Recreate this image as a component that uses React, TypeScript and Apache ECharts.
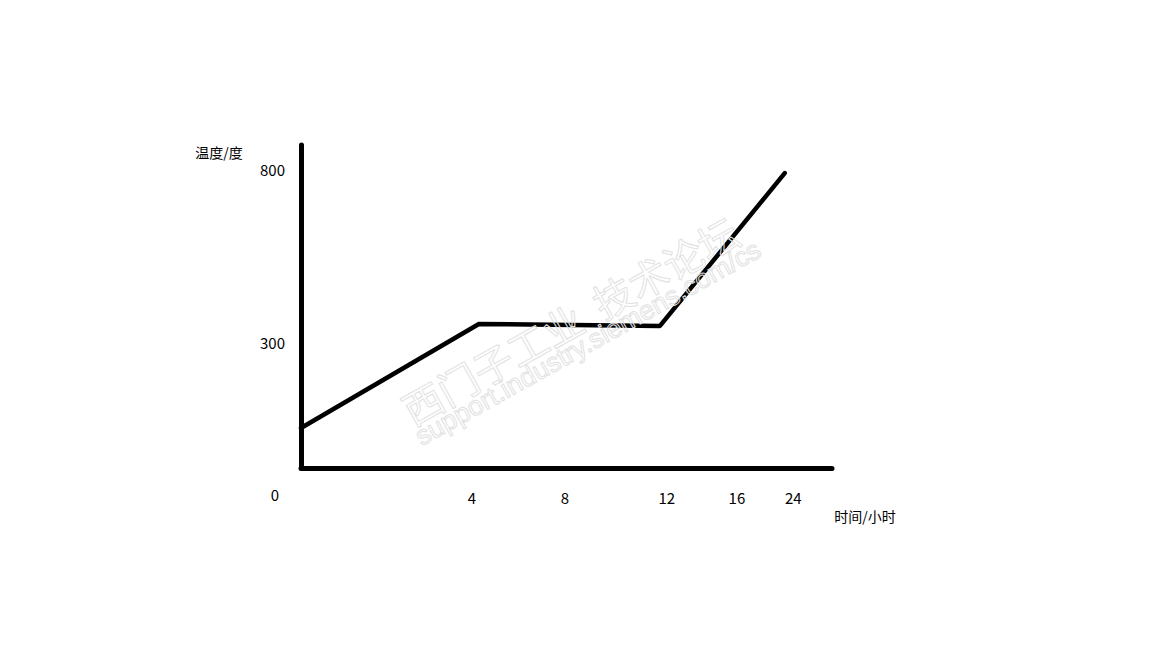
import React, { useEffect, useRef } from "react";
import * as echarts from "echarts";

// Hand-sketched chart: positions are in sketch units (0-100 along each axis)
const xLabels = ["4", "8", "12", "16", "24"];
const xLabelPos = [32.2, 49.7, 68.9, 82.1, 92.7];
const yLabels = ["300", "800"];
const yLabelPos = [39.0, 92.3];
const lineX = [0, 33.5, 67.6, 91.1];
const lineY = [12.4, 44.6, 44.0, 91.3];
const xName = "时间/小时";
const yName = "温度/度";
const originLabel = "0";
const watermark1 = "西门子工业  技术论坛";
const watermark2 = "support.industry.siemens.com/cs";

const FONT = "'Noto Sans CJK SC', 'Noto Sans', sans-serif";

export default function App() {
  const ref = useRef<HTMLDivElement>(null);
  useEffect(() => {
    if (!ref.current) return;
    const chart = echarts.init(ref.current, null, { renderer: "svg" });
    const xLabelMap: Record<string, string> = {};
    xLabelPos.forEach((p, i) => (xLabelMap[String(p)] = xLabels[i]));
    const yLabelMap: Record<string, string> = {};
    yLabelPos.forEach((p, i) => (yLabelMap[String(p)] = yLabels[i]));
    chart.setOption({
      animation: false,
      backgroundColor: "#ffffff",
      grid: { left: 301, top: 145, width: 531, height: 323, containLabel: false },
      xAxis: {
        type: "value",
        min: 0,
        max: 100,
        splitLine: { show: false },
        axisTick: { show: false },
        axisLine: { show: true, lineStyle: { color: "#000", width: 5, cap: "round" } },
        axisLabel: {
          customValues: xLabelPos,
          formatter: (v: number) => xLabelMap[String(v)] ?? "",
          margin: 22,
          color: "#000",
          fontSize: 15,
          fontFamily: FONT,
        },
      },
      yAxis: {
        type: "value",
        min: 0,
        max: 100,
        splitLine: { show: false },
        axisTick: { show: false },
        axisLine: { show: true, lineStyle: { color: "#000", width: 5, cap: "round" } },
        axisLabel: {
          customValues: yLabelPos,
          formatter: (v: number) => yLabelMap[String(v)] ?? "",
          margin: 16,
          color: "#000",
          fontSize: 15,
          fontFamily: FONT,
        },
      },
      series: [
        {
          type: "line",
          data: lineX.map((x, i) => [x, lineY[i]]),
          symbol: "none",
          lineStyle: { color: "#000", width: 4.5, join: "round", cap: "round" },
          z: 3,
        },
      ],
      graphic: [
        {
          type: "text",
          x: 570,
          y: 320,
          rotation: 0.51,
          z: 10,
          style: {
            text: watermark1,
            fill: "rgba(255,255,255,0)",
            stroke: "#e2e2e2",
            lineWidth: 1,
            font: "40px 'Noto Sans CJK SC'",
            align: "center",
            verticalAlign: "middle",
          },
        },
        {
          type: "text",
          x: 588,
          y: 343,
          rotation: 0.51,
          z: 10,
          style: {
            text: watermark2,
            fill: "rgba(255,255,255,0)",
            stroke: "#e2e2e2",
            lineWidth: 1,
            font: "27px 'Liberation Sans'",
            align: "center",
            verticalAlign: "middle",
          },
        },
        {
          type: "text",
          x: 219,
          y: 152,
          style: { text: yName, fill: "#000", font: `14px ${FONT}`, align: "center", verticalAlign: "middle" },
        },
        {
          type: "text",
          x: 865,
          y: 516,
          style: { text: xName, fill: "#000", font: `14px ${FONT}`, align: "center", verticalAlign: "middle" },
        },
        {
          type: "text",
          x: 275,
          y: 494,
          style: { text: originLabel, fill: "#000", font: `15px ${FONT}`, align: "center", verticalAlign: "middle" },
        },
      ],
    });
    return () => chart.dispose();
  }, []);
  return (
    <div
      ref={ref}
      style={{ position: "fixed", left: 0, top: 0, width: 1152, height: 648, background: "#fff" }}
    />
  );
}
